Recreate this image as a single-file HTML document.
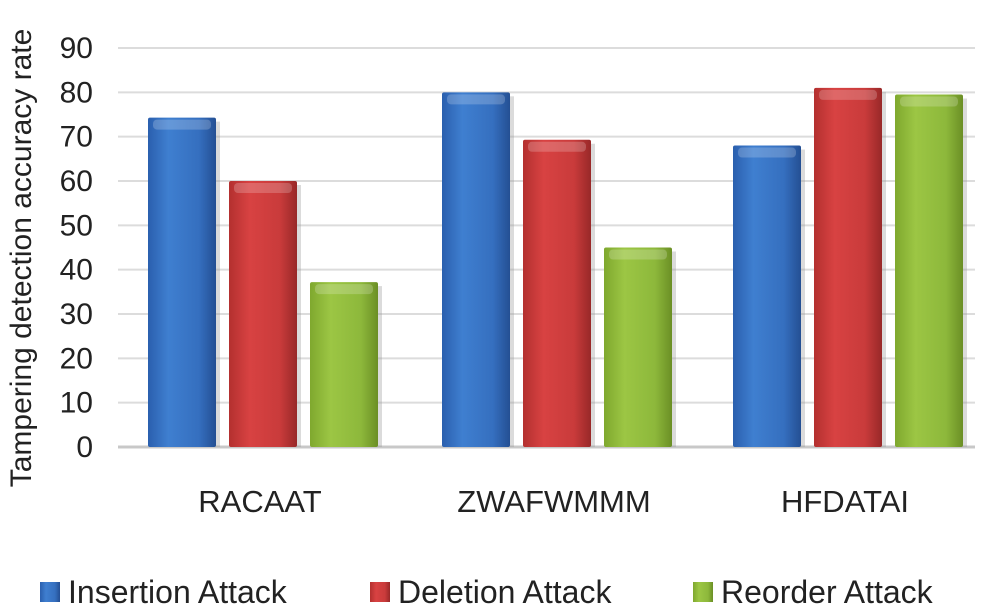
<!DOCTYPE html>
<html><head><meta charset="utf-8"><style>
body{margin:0;background:#fff;width:998px;height:607px;overflow:hidden;font-family:"Liberation Sans",sans-serif}
</style></head><body>
<svg id="c" width="998" height="607" xmlns="http://www.w3.org/2000/svg">
<defs>
<linearGradient id="gb" x1="0" x2="1"><stop offset="0" stop-color="#2a5fae"/><stop offset="0.3" stop-color="#3f7fd0"/><stop offset="0.75" stop-color="#356fbf"/><stop offset="1" stop-color="#244f93"/></linearGradient>
<linearGradient id="gr" x1="0" x2="1"><stop offset="0" stop-color="#b3302f"/><stop offset="0.3" stop-color="#d84242"/><stop offset="0.75" stop-color="#c93b3b"/><stop offset="1" stop-color="#982828"/></linearGradient>
<linearGradient id="gg" x1="0" x2="1"><stop offset="0" stop-color="#7fa82e"/><stop offset="0.3" stop-color="#9cc644"/><stop offset="0.75" stop-color="#8db83b"/><stop offset="1" stop-color="#6b8f25"/></linearGradient>
</defs>
<g id="grid"></g><g id="bars"></g><g id="labels"></g>
<text transform="translate(31,258) rotate(-90)" text-anchor="middle" font-size="30" fill="#222">Tampering detection accuracy rate</text>
<g font-size="32" fill="#222">
<g><rect x="40" y="582" width="20" height="20" fill="url(#gb)"/><text x="68" y="603">Insertion Attack</text></g>
<g><rect x="370" y="582" width="20" height="20" fill="url(#gr)"/><text x="398" y="603">Deletion Attack</text></g>
<g><rect x="693" y="582" width="20" height="20" fill="url(#gg)"/><text x="721" y="603">Reorder Attack</text></g>
</g>
</svg>
<script>
const categories=["RACAAT","ZWAFWMMM","HFDATAI"];
const insertion=[74.3,80,68];
const deletion=[60,69.3,81];
const reorder=[37.2,45,79.5];
const yTicks=[0,10,20,30,40,50,60,70,80,90];
const NS="http://www.w3.org/2000/svg";
const y0=447,yTop=48,yMax=90;
const y=v=>y0-(y0-yTop)*v/yMax;
const groupX=[148,442,733],barW=68,step=81;
function mk(t,a,p){const e=document.createElementNS(NS,t);for(const k in a)e.setAttribute(k,a[k]);p.appendChild(e);return e;}
const grid=document.getElementById('grid'),bars=document.getElementById('bars'),labels=document.getElementById('labels');
yTicks.forEach(v=>{
 const l=mk('line',{x1:118,x2:975,y1:y(v),y2:y(v),stroke:v==0?'#c8c8c8':'#dcdcdc','stroke-width':v==0?3:2},grid);
 
 
 const t=mk('text',{x:93,y:y(v)+10,'text-anchor':'end','font-size':30,fill:'#222'},labels);
 t.textContent=v;
 
 
});
const series=[[insertion,'url(#gb)','insertion'],[deletion,'url(#gr)','deletion'],[reorder,'url(#gg)','reorder']];
categories.forEach((c,i)=>{
 series.forEach((s,j)=>{
  const x=groupX[i]+j*step,top=y(s[0][i]),h=y0-top;
  const sh=mk('rect',{x:x+4,y:top+4,width:barW,height:h-4,fill:'#999',opacity:0.35},bars);
  
  
  const r=mk('rect',{x:x,y:top,width:barW,height:h,fill:s[1],rx:2},bars);
  
  
  const hl=mk('rect',{x:x+5,y:top+2,width:barW-10,height:Math.min(10,h),fill:'#fff',opacity:0.2,rx:4},bars);
  
  
 });
 const t=mk('text',{x:groupX[i]+step+barW/2-3,y:512,'text-anchor':'middle','font-size':31,fill:'#222'},labels);
 t.textContent=c;
 
 
});
</script>
</body></html>
